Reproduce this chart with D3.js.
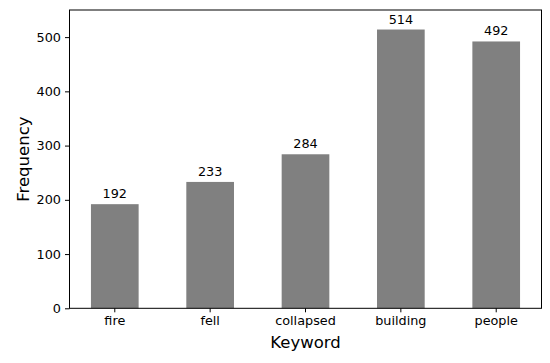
<!DOCTYPE html>
<html>
<head>
<meta charset="utf-8">
<script src="https://cdn.jsdelivr.net/npm/d3@7"></script>
<style>
body{margin:0;background:#fff;}
text{font-family:"DejaVu Sans",sans-serif;fill:#000;}
</style>
</head>
<body>
<svg id="chart" width="550" height="363"></svg>
<script>
const categories = ["fire", "fell", "collapsed", "building", "people"];
const frequencies = [192, 233, 284, 514, 492];
const yTicks = [0, 100, 200, 300, 400, 500];

const W = 550, H = 363;
const m = {left: 69.5, right: 541.5, top: 10, bottom: 308.3};
const svg = d3.select("#chart");

const x = d3.scaleBand().domain(categories).range([m.left, m.right])
  .paddingInner(0.5).paddingOuter(0.225);
const y = d3.scaleLinear().domain([0, 550]).range([m.bottom, m.top]);

svg.append("g").selectAll("rect").data(frequencies).join("rect")
  .attr("x", (d,i) => x(categories[i]))
  .attr("width", x.bandwidth())
  .attr("y", d => y(d))
  .attr("height", d => y(0) - y(d))
  .attr("fill", "#808080");

svg.append("g").selectAll("text").data(frequencies).join("text")
  .attr("x", (d,i) => x(categories[i]) + x.bandwidth()/2)
  .attr("y", d => y(d) - 6)
  .attr("text-anchor", "middle")
  .attr("font-size", "12.8px")
  .text(d => d);

const xAxis = svg.append("g").attr("transform", `translate(0,${m.bottom})`)
  .call(d3.axisBottom(x).tickSize(4).tickPadding(3.5).tickSizeOuter(0));
xAxis.select(".domain").remove();
xAxis.selectAll("text").attr("font-size", "12.8px").style("font-family", '"DejaVu Sans",sans-serif');
xAxis.selectAll("line").attr("stroke", "#000").attr("stroke-width", 1);

const yAxis = svg.append("g").attr("transform", `translate(${m.left},0)`)
  .call(d3.axisLeft(y).tickValues(yTicks).tickSize(4.5).tickPadding(4).tickSizeOuter(0));
yAxis.select(".domain").remove();
yAxis.selectAll("text").attr("font-size", "12.8px").style("font-family", '"DejaVu Sans",sans-serif');
yAxis.selectAll("line").attr("stroke", "#000").attr("stroke-width", 1);

svg.append("rect")
  .attr("x", m.left).attr("y", m.top)
  .attr("width", m.right - m.left).attr("height", m.bottom - m.top)
  .attr("fill", "none").attr("stroke", "#000").attr("stroke-width", 1);

svg.append("text")
  .attr("x", (m.left + m.right)/2).attr("y", 347.5)
  .attr("text-anchor", "middle").attr("font-size", "16.5px")
  .text("Keyword");

svg.append("text")
  .attr("transform", `translate(28.5,${(m.top + m.bottom)/2}) rotate(-90)`)
  .attr("text-anchor", "middle").attr("font-size", "16.5px")
  .text("Frequency");
</script>
</body>
</html>
